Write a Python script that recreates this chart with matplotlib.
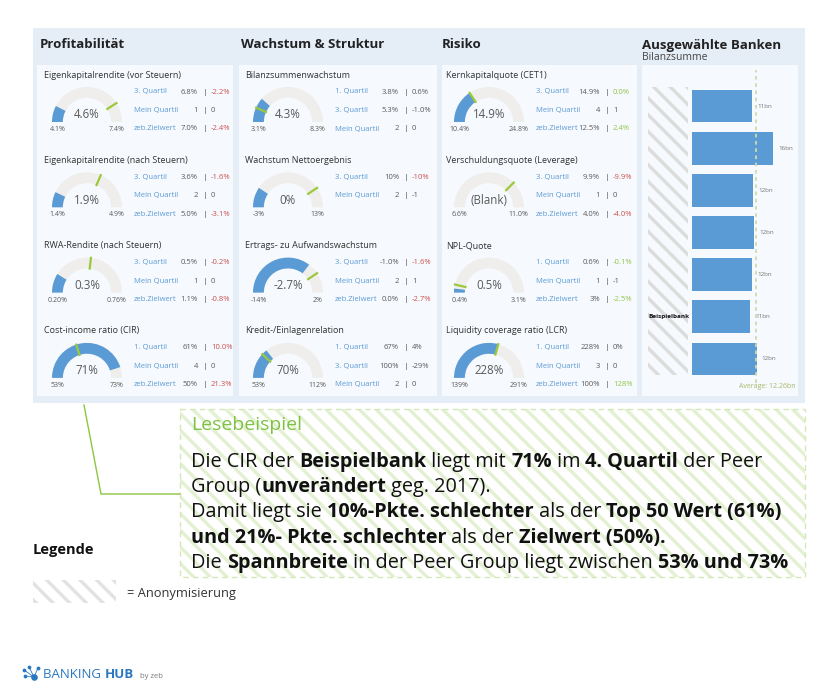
import numpy as np
import matplotlib

matplotlib.use("Agg")
import matplotlib.pyplot as plt
from matplotlib.patches import Rectangle, Wedge

W, H = 825, 695
FONT = ["Open Sans", "DejaVu Sans"]
plt.rcParams["font.family"] = FONT
plt.rcParams["hatch.linewidth"] = 2.4

# ---- data: 12 KPIs, column by column (Profitabilitaet, Wachstum, Risiko) ----
SECTIONS = ["Profitabilität", "Wachstum & Struktur", "Risiko"]
METRICS = [
    "Eigenkapitalrendite (vor Steuern)", "Eigenkapitalrendite (nach Steuern)",
    "RWA-Rendite (nach Steuern)", "Cost-income ratio (CIR)",
    "Bilanzsummenwachstum", "Wachstum Nettoergebnis",
    "Ertrags- zu Aufwandswachstum", "Kredit-/Einlagenrelation",
    "Kernkapitalquote (CET1)", "Verschuldungsquote (Leverage)",
    "NPL-Quote", "Liquidity coverage ratio (LCR)",
]
GAUGE_VALUE = [4.6, 1.9, 0.3, 71, 4.3, 0, -2.7, 70, 14.9, None, 0.5, 228]
GAUGE_TEXT = ["4.6%", "1.9%", "0.3%", "71%", "4.3%", "0%", "-2.7%", "70%",
              "14.9%", "(Blank)", "0.5%", "228%"]
GAUGE_MIN = [4.1, 1.4, 0.20, 53, 3.1, -3, -14, 53, 10.4, 6.6, 0.4, 139]
GAUGE_MAX = [7.4, 4.9, 0.76, 73, 8.3, 13, 2, 112, 24.8, 11.0, 3.1, 291]
MIN_TEXT = ["4.1%", "1.4%", "0.20%", "53%", "3.1%", "-3%", "-14%", "53%",
            "10.4%", "6.6%", "0.4%", "139%"]
MAX_TEXT = ["7.4%", "4.9%", "0.76%", "73%", "8.3%", "13%", "2%", "112%",
            "24.8%", "11.0%", "3.1%", "291%"]
TARGET = [6.8, 3.6, 0.5, 61, 3.8, 10, -1.0, 67, 14.9, 9.9, 0.6, 228]

ROW_LABELS = [
    ["3. Quartil", "Mein Quartil", "zeb.Zielwert"],
    ["3. Quartil", "Mein Quartil", "zeb.Zielwert"],
    ["3. Quartil", "Mein Quartil", "zeb.Zielwert"],
    ["1. Quartil", "Mein Quartil", "zeb.Zielwert"],
    ["1. Quartil", "3. Quartil", "Mein Quartil"],
    ["3. Quartil", "Mein Quartil"],
    ["3. Quartil", "Mein Quartil", "zeb.Zielwert"],
    ["1. Quartil", "3. Quartil", "Mein Quartil"],
    ["3. Quartil", "Mein Quartil", "zeb.Zielwert"],
    ["3. Quartil", "Mein Quartil", "zeb.Zielwert"],
    ["1. Quartil", "Mein Quartil", "zeb.Zielwert"],
    ["1. Quartil", "Mein Quartil", "zeb.Zielwert"],
]
ROW_VALUES = [
    ["6.8%", "1", "7.0%"], ["3.6%", "2", "5.0%"], ["0.5%", "1", "1.1%"],
    ["61%", "4", "50%"], ["3.8%", "5.3%", "2"], ["10%", "2"],
    ["-1.0%", "2", "0.0%"], ["67%", "100%", "2"], ["14.9%", "4", "12.5%"],
    ["9.9%", "1", "4.0%"], ["0.6%", "1", "3%"], ["228%", "3", "100%"],
]
ROW_DELTAS = [
    ["-2.2%", "0", "-2.4%"], ["-1.6%", "0", "-3.1%"], ["-0.2%", "0", "-0.8%"],
    ["10.0%", "0", "21.3%"], ["0.6%", "-1.0%", "0"], ["-10%", "-1"],
    ["-1.6%", "1", "-2.7%"], ["4%", "-29%", "0"], ["0.0%", "1", "2.4%"],
    ["-9.9%", "0", "-4.0%"], ["-0.1%", "-1", "-2.5%"], ["0%", "0", "128%"],
]
DELTA_TONE = [
    ["bad", "", "bad"], ["bad", "", "bad"], ["bad", "", "bad"],
    ["bad", "", "bad"], ["", "", ""], ["bad", ""],
    ["bad", "", "bad"], ["", "", ""], ["good", "", "good"],
    ["bad", "", "bad"], ["good", "", "good"], ["", "", "good"],
]

BANK_VALUES = [11.5, 15.6, 11.7, 11.9, 11.5, 11.1, 12.4]
BANK_TEXT = ["11bn", "16bn", "12bn", "12bn", "12bn", "11bn", "12bn"]
HIGHLIGHT_BANK = 5
AVERAGE = 12.26

READING_TITLE = "Lesebeispiel"
READING_LINES = [
    [("Die CIR der ", False), ("Beispielbank", True), (" liegt mit ", False),
     ("71%", True), (" im ", False), ("4. Quartil", True), (" der Peer", False)],
    [("Group (", False), ("unverändert", True), (" geg. 2017).", False)],
    [("Damit liegt sie ", False), ("10%-Pkte. schlechter", True),
     (" als der ", False), ("Top 50 Wert (61%)", True)],
    [("und 21%- Pkte. schlechter", True), (" als der ", False),
     ("Zielwert (50%).", True)],
    [("Die ", False), ("Spannbreite", True),
     (" in der Peer Group liegt zwischen ", False), ("53% und 73%", True)],
]

# ---- colours ----
OUTER = "#e5edf7"
INNER = "#f6f9fd"
BLUE = "#5b9bd5"
TRACK = "#efeeec"
GREEN = "#9cc93b"
LABEL_BLUE = "#5b9bd5"
GREY_TXT = "#5a5a5a"
TONES = {"bad": "#c9514e", "good": "#92c447", "": GREY_TXT}

fig = plt.figure(figsize=(W / 100, H / 100), dpi=100)
bg = fig.add_axes([0, 0, 1, 1])
bg.set_xlim(0, W)
bg.set_ylim(H, 0)
bg.axis("off")
renderer = fig.canvas.get_renderer()


def px_axes(left, top, w, h):
    ax = fig.add_axes([left / W, 1 - (top + h) / H, w / W, h / H])
    ax.patch.set_alpha(0)
    ax.axis("off")
    return ax


def text_width(s, size, weight):
    def ext(txt):
        t = bg.text(0, 0, txt, fontsize=size, fontweight=weight)
        w = t.get_window_extent(renderer).width
        t.remove()
        return w
    return ext("|" + s + "|") - ext("||")


def rich(x, y, parts, size, color):
    for s, bold in parts:
        wt = "bold" if bold else "normal"
        bg.text(x, y, s, fontsize=size, fontweight=wt, color=color,
                ha="left", va="center")
        x += text_width(s, size, wt)


def gauge(cx, cy, k):
    s = 35
    ax = px_axes(cx - 1.2 * s, cy - 1.1 * s, 2.4 * s, 1.5 * s)
    ax.set_xlim(-1.2, 1.2)
    ax.set_ylim(-0.4, 1.1)
    lo, hi = GAUGE_MIN[k], GAUGE_MAX[k]
    ax.add_patch(Wedge((0, 0), 1, 0, 180, width=0.31, fc=TRACK, ec="none"))
    if GAUGE_VALUE[k] is not None:
        frac = (GAUGE_VALUE[k] - lo) / (hi - lo)
        ax.add_patch(Wedge((0, 0), 1, 180 - 180 * frac, 180, width=0.31,
                           fc=BLUE, ec="none"))
    t = np.radians(180 - 180 * (TARGET[k] - lo) / (hi - lo))
    ax.plot([0.66 * np.cos(t), 1.03 * np.cos(t)], [0.66 * np.sin(t), 1.03 * np.sin(t)],
            color=GREEN, lw=1.6, solid_capstyle="butt")
    ax.text(0, 0.1, GAUGE_TEXT[k], ha="center", va="baseline", fontsize=8.3,
            color=GREY_TXT)
    ax.text(-0.84, -0.22, MIN_TEXT[k], ha="center", va="center", fontsize=5,
            color=GREY_TXT)
    ax.text(0.84, -0.22, MAX_TEXT[k], ha="center", va="center", fontsize=5,
            color=GREY_TXT)


# ---- dashboard panels ----
bg.add_patch(Rectangle((33, 28), 772, 375, fc=OUTER, ec="none"))
for x0, x1 in [(37, 233), (239, 437), (442, 637), (642, 798)]:
    bg.add_patch(Rectangle((x0, 65), x1 - x0, 331, fc=INNER, ec="none"))

col_dx = [0, 201, 402]
for c, name in enumerate(SECTIONS):
    bg.text(40 + col_dx[c], 45, name, fontsize=9.5, fontweight="bold",
            color="#222222", va="center")
bg.text(642, 45, "Ausgewählte Banken", fontsize=9.5, fontweight="bold",
        color="#222222", va="center")
bg.text(642, 58, "Bilanzsumme", fontsize=7.5, color="#444444", va="center")

for k, title in enumerate(METRICS):
    dx = col_dx[k // 4]
    dy = (k % 4) * 85.3
    bg.text(44 + dx, 75 + dy, title, fontsize=6.5, color="#333333", va="center")
    gauge(87 + dx, 122 + dy, k)
    for j, lab in enumerate(ROW_LABELS[k]):
        y = 92 + dy + 18.5 * j
        bg.text(134 + dx, y, lab, fontsize=5.5, color=LABEL_BLUE, va="center")
        bg.text(198 + dx, y, ROW_VALUES[k][j], fontsize=5.5, color=GREY_TXT,
                ha="right", va="center")
        bg.text(205.5 + dx, y, "|", fontsize=6, color=GREY_TXT, ha="center",
                va="center")
        bg.text(211 + dx, y, ROW_DELTAS[k][j], fontsize=5.5,
                color=TONES[DELTA_TONE[k][j]], va="center")

# ---- selected banks bar chart ----
bg.add_patch(Rectangle((648, 87), 40, 288, fc=INNER, ec="#dcdcdc", lw=0,
                       hatch="\\\\"))
BAR_X0, PX_PER_BN = 692, 5.22
bax = px_axes(BAR_X0, 70, 797 - BAR_X0, 325)
xmax = (797 - BAR_X0) / PX_PER_BN
pad = 0.854
n = len(BANK_VALUES)
bax.set_xlim(0, xmax)
bax.set_ylim(n - 1 + pad, -pad)
bax.barh(range(n), BANK_VALUES, height=0.78, color=BLUE)
for i, (v, lab) in enumerate(zip(BANK_VALUES, BANK_TEXT)):
    bax.text(v + 5 / PX_PER_BN, i, lab, fontsize=4.5, color="#777777", va="center")
bax.axvline(AVERAGE, ymin=0.037, ymax=1, color="#cfdca8", ls=(0, (2, 2)), lw=1.3)
bax.text(xmax - 0.3, n - 1 + 0.66, "Average: %.2fbn" % AVERAGE, ha="right",
         va="center", fontsize=5, color="#a9b86a")
bax.text((648 - BAR_X0) / PX_PER_BN, HIGHLIGHT_BANK, "Beispielbank", fontsize=4.6,
         fontweight="bold", color="#111111", va="center", clip_on=False)

# ---- reading example ----
bg.plot([84, 101, 180], [405, 494, 494], color="#8dc63f", lw=1)
bg.add_patch(Rectangle((180, 409), 625, 168, fc="white", ec="#e3f0d2", lw=0,
                       hatch="\\\\"))
bg.add_patch(Rectangle((180, 409), 625, 168, fill=False, ec="#d3e7b8",
                       ls=(0, (4, 3)), lw=1))
bg.text(191, 425, READING_TITLE, fontsize=14, color="#7dc242", va="center")
for i, parts in enumerate(READING_LINES):
    rich(191, 462 + 25.2 * i, parts, 14.3, "#111111")

# ---- legend ----
bg.text(33, 550, "Legende", fontsize=10.5, fontweight="bold", color="#111111",
        va="center")
bg.add_patch(Rectangle((33, 580), 83, 23, fc="white", ec="#e2e2e2", lw=0,
                       hatch="\\\\"))
bg.text(127, 593, "= Anonymisierung", fontsize=9.3, color="#333333", va="center")

# ---- logo ----
logo_blue = "#2a78c0"
for px, py in [(24, 670), (29, 667), (38, 668), (25, 676)]:
    bg.plot([px, 34], [py, 677], color=logo_blue, lw=0.6)
bg.scatter([24, 29, 38, 25], [670, 667, 668, 676], s=3, color=logo_blue, zorder=3)
bg.scatter([34], [677], s=14, color=logo_blue, zorder=3)
rich(43, 674, [("BANKING ", False), ("HUB", True)], 9.5, logo_blue)
bg.text(140, 676, "by zeb", fontsize=5.5, color="#777777", va="center")

fig.savefig("out.png", dpi=100)
